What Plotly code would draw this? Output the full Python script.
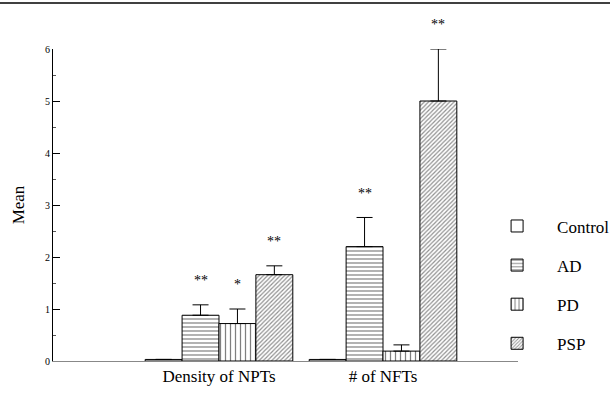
import plotly.graph_objects as go

categories = ["Density of NPTs", "# of NFTs"]
groups = ["Control", "AD", "PD", "PSP"]
means = {
    "Control": [0.03, 0.03],
    "AD": [0.88, 2.20],
    "PD": [0.72, 0.19],
    "PSP": [1.66, 5.00],
}
errors = {
    "Control": [0.0, 0.0],
    "AD": [0.20, 0.56],
    "PD": [0.28, 0.12],
    "PSP": [0.17, 1.00],
}
stars = {
    "Control": ["", ""],
    "AD": ["**", "**"],
    "PD": ["*", ""],
    "PSP": ["**", "**"],
}
y_ticks = [0, 1, 2, 3, 4, 5, 6]
y_range = [0, 6]

patterns = {
    "Control": dict(shape=""),
    "AD": dict(shape="-", size=4, solidity=0.3, fgcolor="black", bgcolor="white"),
    "PD": dict(shape="|", size=5, solidity=0.25, fgcolor="black", bgcolor="white"),
    "PSP": dict(shape="/", size=3, solidity=0.4, fgcolor="#222", bgcolor="white"),
}

serif = "Liberation Serif"
fig = go.Figure()
for g in groups:
    fig.add_trace(go.Bar(
        name=g, x=categories, y=means[g],
        legendgroup=g,
        marker=dict(color="white", line=dict(color="black", width=1), pattern=patterns[g]),
        error_y=dict(type="data", array=errors[g], arrayminus=[0] * len(categories),
                     color="black", thickness=1, width=8),
    ))

bargap = 0.1
n = len(groups)
bw = (1 - bargap) / n
annotations = []
for gi, g in enumerate(groups):
    off = -((1 - bargap) / 2) + bw * (gi + 0.5)
    for ci, c in enumerate(categories):
        s = stars[g][ci]
        if s:
            yv = means[g][ci] + errors[g][ci] + 0.47
            annotations.append(dict(
                x=ci + off, y=(yv - y_range[0]) / (y_range[1] - y_range[0]),
                xref="x", yref="y domain", xanchor="center", yanchor="middle",
                text=s, showarrow=False, font=dict(family=serif, size=14, color="black"),
            ))

fig.update_layout(
    width=610, height=407,
    margin=dict(l=53, r=92, t=49, b=46, autoexpand=False),
    paper_bgcolor="white", plot_bgcolor="white",
    barmode="group", bargap=bargap, bargroupgap=0,
    font=dict(family=serif, color="black"),
    annotations=annotations,
    legend=dict(x=0.912, xanchor="left", y=0.489, yanchor="top",
                traceorder="grouped", tracegroupgap=14, itemwidth=70,
                font=dict(family=serif, size=17, color="black"),
                bgcolor="rgba(0,0,0,0)"),
    shapes=[dict(type="line", xref="paper", yref="paper",
                 x0=-53 / 465, x1=557 / 465, y0=1 + 46 / 312, y1=1 + 46 / 312,
                 line=dict(color="black", width=1.5))],
)
fig.update_xaxes(
    range=[-1.012, 1.823], showgrid=False, ticks="", automargin=False,
    showline=True, linecolor="#888", linewidth=1,
    tickfont=dict(family=serif, size=17, color="black"),
)
fig.update_yaxes(
    range=y_range, tickvals=y_ticks, showgrid=False, zeroline=False, automargin=False,
    showline=True, linecolor="black", linewidth=1,
    ticks="inside", ticklen=7, tickcolor="black",
    minor=dict(ticks="inside", ticklen=3, dtick=0.5, tickcolor="#555"),
    tickfont=dict(family=serif, size=10, color="black"),
    title=dict(text="Mean", font=dict(family=serif, size=17, color="black"), standoff=16),
)
fig.write_html("out.html", config={"displayModeBar": False},
               post_script="document.body.style.margin='0';")
